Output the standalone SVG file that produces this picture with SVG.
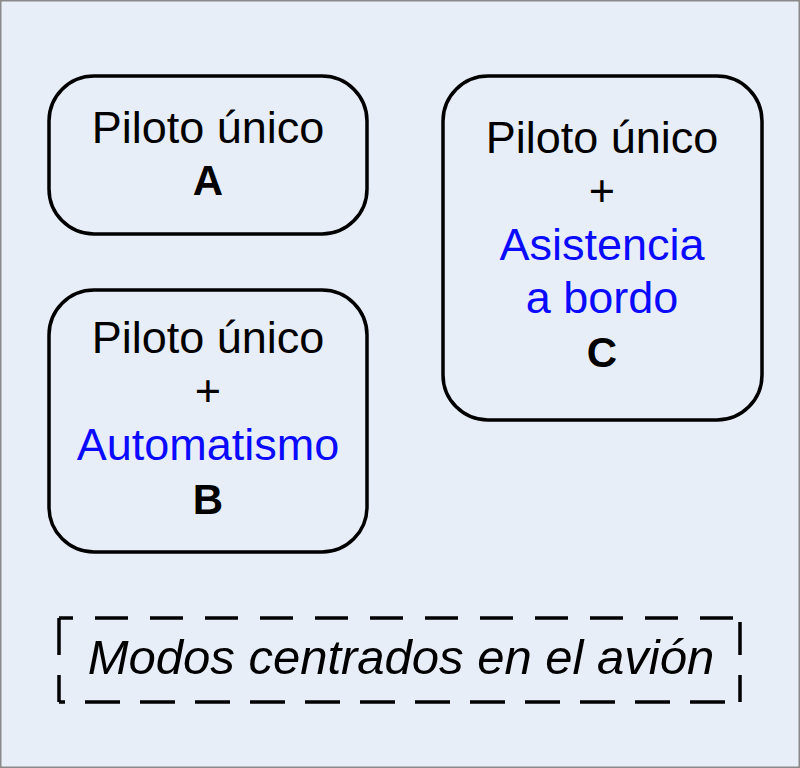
<svg xmlns="http://www.w3.org/2000/svg" width="800" height="768" viewBox="0 0 800 768">
<style>
.box{fill:none;stroke:#000;stroke-width:3.5}
.t{font-family:"Liberation Sans",Arial,sans-serif;font-size:45px;text-anchor:middle;fill:#000}
.b{font-weight:bold;font-size:42px}
.blue{fill:#0a0aff}
.it{font-style:italic;font-size:49px}
.d{fill:none;stroke:#000;stroke-width:3.5}
</style>
<rect x="0.75" y="0.75" width="798.5" height="766.5" fill="#e8eef8" stroke="#8a8a8a" stroke-width="1.5"/>
<g id="nodeA">
<rect class="box" x="49" y="76" width="318" height="158" rx="45"/>
<text class="t" x="208" y="143">Piloto único</text>
<text class="t b" x="208" y="195">A</text>
</g>
<g id="nodeB">
<rect class="box" x="49" y="290" width="318" height="262" rx="45"/>
<text class="t" x="208" y="353">Piloto único</text>
<text class="t" x="208" y="406">+</text>
<text class="t blue" x="208" y="460">Automatismo</text>
<text class="t b" x="208" y="514">B</text>
</g>
<g id="nodeC">
<rect class="box" x="443" y="76" width="319" height="344" rx="45"/>
<text class="t" x="602" y="153">Piloto único</text>
<text class="t" x="602" y="206">+</text>
<text class="t blue" x="602" y="260">Asistencia</text>
<text class="t blue" x="602" y="313">a bordo</text>
<text class="t b" x="602" y="367">C</text>
</g>
<g id="label">
<path class="d" d="M59,618 H740" stroke-dasharray="33 22" stroke-dashoffset="19"/>
<path class="d" d="M59,702 H740" stroke-dasharray="35 20" stroke-dashoffset="29"/>
<path class="d" d="M59,618 V702" stroke-dasharray="37 20 40"/>
<path class="d" d="M740,702 V622" stroke-dasharray="27 20 40"/>
<text class="t it" x="401" y="674">Modos centrados en el avión</text>
</g>
<g id="connectors"></g>
</svg>
